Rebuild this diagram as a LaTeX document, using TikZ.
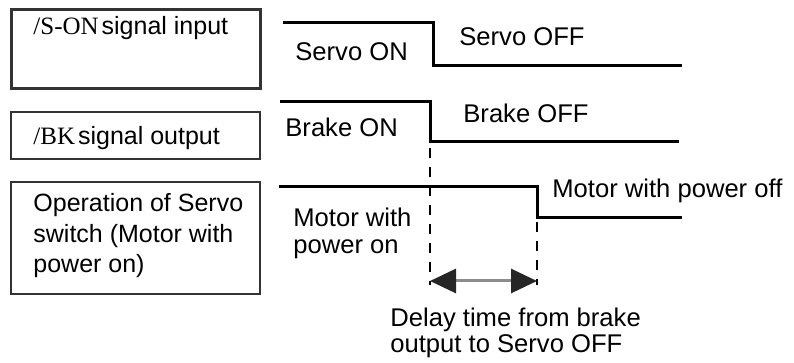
\documentclass[tikz,border=0pt]{standalone}
\usepackage{fontspec}
\setmainfont{Liberation Sans}
\newfontfamily\sigfont{Liberation Serif}
\usetikzlibrary{arrows.meta}

\begin{document}
\begin{tikzpicture}[x=0.5pt, y=-0.5pt,
    lbl/.style={font=\fontsize{12.8}{15}\selectfont, inner sep=0pt, anchor=base west, align=left},
    sigbox/.style={draw=boxline, line width=1pt, inner sep=0pt, anchor=north west,
                   minimum width=124.5pt},
    wave/.style={line width=1.5pt, line join=miter},
    guide/.style={line width=1pt, dash pattern=on 5pt off 4.5pt},
    delay/.style={draw=gray!90, line width=1.5pt,
                  {Triangle[length=13pt, width=12pt, color=black!85]}-{Triangle[length=13pt, width=12pt, color=black!85]}}]
  \colorlet{boxline}{black!80}
  \useasboundingbox (0,0) rectangle (794,363);

  %--- Signal name boxes ---
  \node[sigbox, line width=1.5pt, minimum height=39.5pt] (sonbox) at (10,8)   {};
  \node[sigbox, minimum height=23.5pt]                   (bkbox)  at (10,111) {};
  \node[sigbox, minimum height=56pt]                     (opbox)  at (10,181) {};

  \node[lbl, font=\fontsize{12.5}{15}\selectfont] (sonlbl) at (33,35)  {{\sigfont /S-ON}\hspace{1.5pt}signal input};
  \node[lbl, font=\fontsize{12.5}{15}\selectfont] (bklbl)  at (33,145) {{\sigfont /BK}\hspace{1.5pt}signal output};
  % multi-line labels: base = last line
  \node[lbl, font=\fontsize{12.5}{15.25}\selectfont] (oplbl) at (33,273)
    {Operation of Servo\\switch (Motor with\\power on)};

  %--- /S-ON waveform ---
  \coordinate (sonA) at (283,23);
  \coordinate (sonB) at (433,23);
  \coordinate (sonC) at (433,66);
  \coordinate (sonD) at (682,66);
  \draw[wave] (sonA) -- (sonB) -- (sonC) -- (sonD);
  \node[lbl] (servoon)  at (295,61) {Servo ON};
  \node[lbl] (servooff) at (459,46) {Servo OFF};

  %--- /BK waveform ---
  \coordinate (bkA) at (280,102);
  \coordinate (bkB) at (430,102);
  \coordinate (bkC) at (430,142);
  \coordinate (bkD) at (679,142);
  \draw[wave] (bkA) -- (bkB) -- (bkC) -- (bkD);
  \node[lbl] (brakeon)  at (285,137) {Brake ON};
  \node[lbl] (brakeoff) at (463,123) {Brake OFF};

  %--- Motor power waveform ---
  \coordinate (mtA) at (279,187);
  \coordinate (mtB) at (537,187);
  \coordinate (mtC) at (537,218);
  \coordinate (mtD) at (682,218);
  \draw[wave] (mtA) -- (mtB) -- (mtC) -- (mtD);
  \node[lbl, font=\fontsize{12.8}{13.5}\selectfont] (mtron) at (293,254) {Motor with\\power on};
  \node[lbl] (mtroff) at (552,198) {Motor with power off};

  %--- Delay time ---
  \coordinate (dlyA) at (430,281);
  \coordinate (dlyB) at (537,281);
  \draw[guide] ([yshift=-3pt]bkC) -- ([yshift=-2pt]dlyA);
  \draw[guide] ([yshift=-2pt]mtC) -- ([yshift=-2pt]dlyB);
  \draw[delay] (dlyA) -- (dlyB);
  \node[lbl, font=\fontsize{12.8}{13.25}\selectfont] (delaytxt) at (390,353)
    {Delay time from brake\\output to Servo OFF};

\end{tikzpicture}
\end{document}
